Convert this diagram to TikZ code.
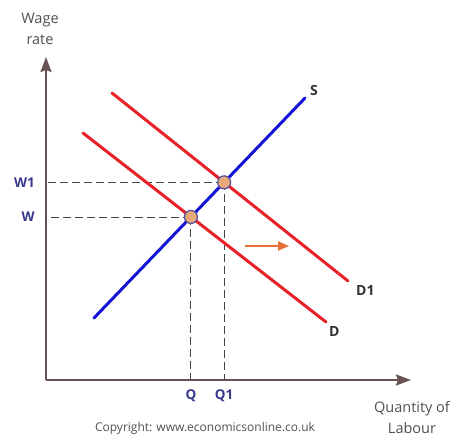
\documentclass[tikz,border=0pt]{standalone}
\usepackage{fontspec}
\setmainfont{Open Sans}
\usetikzlibrary{arrows.meta, positioning}

\definecolor{axisbrown}{RGB}{105,82,82}
\definecolor{supblue}{RGB}{20,20,215}
\definecolor{demred}{RGB}{232,34,40}
\definecolor{guidegray}{RGB}{70,70,70}
\definecolor{dotorange}{RGB}{232,168,120}
\definecolor{dotblue}{RGB}{80,80,160}
\definecolor{valblue}{RGB}{55,55,140}
\definecolor{labelgray}{RGB}{50,50,50}
\definecolor{textgray}{RGB}{80,80,80}
\definecolor{shiftorange}{RGB}{232,110,55}

\begin{document}
\begin{tikzpicture}[
        x=1pt, y=-1pt,
        axis/.style={draw=axisbrown, line width=2.2pt, -{Stealth[length=15pt, width=11pt, inset=2pt]}},
        supply/.style={draw=supblue, line width=3pt, line cap=round},
        demand/.style={draw=demred, line width=3pt, line cap=round},
        guide/.style={draw=guidegray, dash pattern=on 8pt off 4pt, line width=0.9pt},
        eqpoint/.style={circle, fill=dotorange, draw=dotblue, line width=1.2pt, minimum size=13pt, inner sep=0pt},
        curvelabel/.style={font=\bfseries\fontsize{14}{16}\selectfont, text=labelgray, inner sep=0pt},
        valuelabel/.style={font=\bfseries\fontsize{13.5}{15}\selectfont, text=valblue, inner sep=0pt},
        axislabel/.style={font=\fontsize{14.5}{21}\selectfont, text=textgray, align=center, inner sep=0pt},
        shiftarrow/.style={draw=shiftorange, line width=2pt, -{Triangle[length=11pt, width=9pt]}}
    ]
    \useasboundingbox (0,0) rectangle (454,439);

    % Axes
    \coordinate (origin) at (46,380);
    \coordinate (ytop) at (46,57);
    \coordinate (xend) at (411,380);
    \draw[axis] (origin) -- (ytop);
    \draw[axis] (origin) -- (xend);
    \node[axislabel] (ylabel) at (40,29) {Wage\\rate};
    \node[axislabel] (xlabel) at (412,418) {Quantity of\\Labour};

    % Supply and demand curves
    \coordinate (s0) at (94,318);
    \coordinate (s1) at (305,98);
    \coordinate (d0) at (83,133);
    \coordinate (d1) at (326,322);
    \coordinate (dd0) at (112,93);
    \coordinate (dd1) at (348,281);

    % Equilibrium points
    \coordinate (e0) at (intersection of s0--s1 and d0--d1);
    \coordinate (e1) at (intersection of s0--s1 and dd0--dd1);

    % Guide lines to the axes
    \coordinate (wtick) at (e0 -| origin);
    \coordinate (w1tick) at (e1 -| origin);
    \coordinate (qtick) at (e0 |- origin);
    \coordinate (q1tick) at (e1 |- origin);
    \draw[guide] (e0) -- (wtick);
    \draw[guide] (e1) -- (w1tick);
    \draw[guide] (e0) -- (qtick);
    \draw[guide] (e1) -- (q1tick);

    \draw[demand] (d0) -- (d1);
    \draw[demand] (dd0) -- (dd1);
    \draw[supply] (s0) -- (s1);

    \node[eqpoint] (eq0) at (e0) {};
    \node[eqpoint] (eq1) at (e1) {};

    % Labels
    \node[curvelabel, above right=2pt and 5pt of s1] (slab) {S};
    \node[curvelabel, below right=4pt and 8pt of dd1] (d1lab) {D1};
    \node[curvelabel, below right=4pt and 3pt of d1] (dlab) {D};
    \node[valuelabel, left=11pt of wtick] (wlab) {W};
    \node[valuelabel, left=11pt of w1tick] (w1lab) {W1};
    \node[valuelabel, below=10pt of qtick] (qlab) {Q};
    \node[valuelabel, below=10pt of q1tick] (q1lab) {Q1};

    % Shift of demand
    \coordinate (shift0) at (245,246);
    \coordinate (shift1) at (289,246);
    \draw[shiftarrow] (shift0) -- (shift1);

    \node[font=\fontsize{12}{14}\selectfont, text=textgray] (copy) at (205,428) {Copyright: www.economicsonline.co.uk};
\end{tikzpicture}
\end{document}
